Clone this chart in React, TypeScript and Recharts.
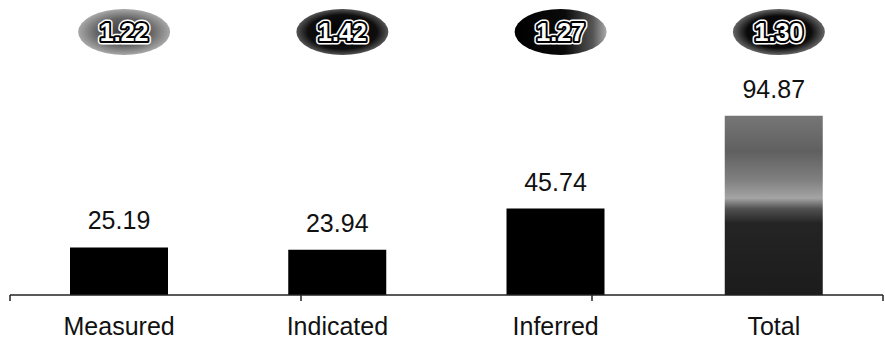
import React from 'react';
import { BarChart, Bar, XAxis, YAxis, LabelList, Cell } from 'recharts';

const categories = ['Measured', 'Indicated', 'Inferred', 'Total'];
const values = [25.19, 23.94, 45.74, 94.87];
const ratios = ['1.22', '1.42', '1.27', '1.30'];
const boundaryTicks = [0, 1, 2, 3, 4];
const barFills = ['#000', '#000', '#000', 'url(#totalFill)'];

const data = categories.map((c, i) => ({ name: c, value: values[i], ratio: ratios[i] }));

const FONT = '"Liberation Sans", Arial, sans-serif';

const EmptyTick = () => <g />;

const RatioTick = (props: any) => {
  const { x, y, payload, index } = props;
  const cx = x + 5;
  const cy = y - 74;
  const common = {
    x: cx,
    y: cy,
    dy: 9,
    textAnchor: 'middle' as const,
    fontSize: 25,
    fontWeight: 'bold' as const,
    fontFamily: FONT,
    strokeLinejoin: 'round' as const,
  };
  return (
    <g>
      <ellipse cx={cx} cy={cy} rx={46} ry={23} fill={`url(#ell${index})`} />
      <text {...common} fill="white" stroke="white" strokeWidth={7}>{payload.value}</text>
      <text {...common} fill="white" stroke="black" strokeWidth={4}>{payload.value}</text>
      <text {...common} fill="white">{payload.value}</text>
    </g>
  );
};

export default function App() {
  return (
    <div style={{ position: 'absolute', left: 0, top: 0, width: 885, height: 341, background: '#fff' }}>
      <BarChart
        width={885}
        height={341}
        data={data}
        margin={{ top: 105, right: 2, bottom: 0, left: 10 }}
      >
        <defs>
          <linearGradient id="totalFill" x1="0" y1="0" x2="0" y2="1">
            <stop offset="0%" stopColor="#767676" />
            <stop offset="20%" stopColor="#606060" />
            <stop offset="36%" stopColor="#808080" />
            <stop offset="46%" stopColor="#a4a4a4" />
            <stop offset="52%" stopColor="#505050" />
            <stop offset="60%" stopColor="#242424" />
            <stop offset="100%" stopColor="#1c1c1c" />
          </linearGradient>
          <radialGradient id="ell0" cx="50%" cy="50%" r="50%">
            <stop offset="0%" stopColor="#3a3a3a" />
            <stop offset="60%" stopColor="#646464" />
            <stop offset="100%" stopColor="#a8a8a8" />
          </radialGradient>
          <radialGradient id="ell1" cx="50%" cy="50%" r="50%">
            <stop offset="0%" stopColor="#000" />
            <stop offset="75%" stopColor="#0e0e0e" />
            <stop offset="100%" stopColor="#555" />
          </radialGradient>
          <linearGradient id="ell2" x1="0" y1="0" x2="1" y2="0">
            <stop offset="0%" stopColor="#000" />
            <stop offset="55%" stopColor="#0a0a0a" />
            <stop offset="85%" stopColor="#555" />
            <stop offset="100%" stopColor="#aaa" />
          </linearGradient>
          <radialGradient id="ell3" cx="50%" cy="50%" r="50%">
            <stop offset="0%" stopColor="#000" />
            <stop offset="70%" stopColor="#0a0a0a" />
            <stop offset="100%" stopColor="#666" />
          </radialGradient>
        </defs>
        <YAxis hide domain={[0, 100]} />
        <XAxis
          xAxisId="top"
          orientation="top"
          dataKey="ratio"
          height={1}
          axisLine={false}
          tickLine={false}
          tickSize={0}
          tickMargin={0}
          interval={0}
          tick={<RatioTick />}
        />
        <XAxis
          xAxisId="a"
          type="number"
          domain={[0, 4]}
          allowDataOverflow
          ticks={boundaryTicks}
          height={1}
          axisLine={{ stroke: '#222', strokeWidth: 1.5 }}
          tick={<EmptyTick />}
          tickLine={{ stroke: '#222', strokeWidth: 1.5 }}
          tickSize={6}
          interval={0}
        />
        <XAxis
          xAxisId="names"
          dataKey="name"
          height={45}
          interval={0}
          tickLine={false}
          tickSize={0}
          tickMargin={21}
          axisLine={false}
          tick={{ fontSize: 25, fill: '#111', fontFamily: FONT }}
        />
        <Bar xAxisId="names" dataKey="value" barSize={98} isAnimationActive={false}>
          {data.map((d, i) => (
            <Cell key={d.name} fill={barFills[i]} />
          ))}
          <LabelList
            dataKey="value"
            position="top"
            offset={18}
            fontSize={25}
            fill="#111"
            fontFamily={FONT}
            formatter={(v: any) => Number(v).toFixed(2)}
          />
        </Bar>
      </BarChart>
    </div>
  );
}
